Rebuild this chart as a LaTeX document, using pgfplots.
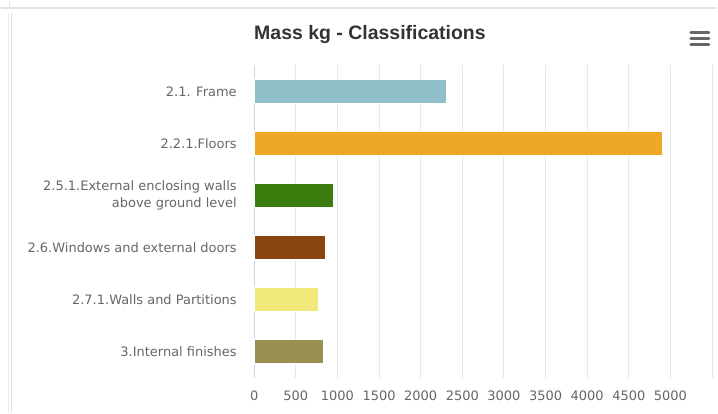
\documentclass[border=0pt]{standalone}
\usepackage{fontspec}
\usepackage{pgfplots}
\pgfplotsset{compat=1.18}
\setmainfont{DejaVu Sans}
\newfontfamily\titlefont{Liberation Sans}

\definecolor{cFrame}{RGB}{145,191,201}
\definecolor{cFloors}{RGB}{238,168,38}
\definecolor{cExt}{RGB}{58,124,14}
\definecolor{cWin}{RGB}{139,69,16}
\definecolor{cWalls}{RGB}{240,232,120}
\definecolor{cFin}{RGB}{154,144,82}
\definecolor{gridgray}{RGB}{230,230,230}
\definecolor{axisblue}{RGB}{204,214,235}
\definecolor{labelgray}{RGB}{102,102,102}
\definecolor{titlegray}{RGB}{51,51,51}
\definecolor{panelline}{RGB}{226,226,226}

\begin{document}
\begin{tikzpicture}[x=1pt,y=1pt]
  % page area
  \path (0,0) rectangle (718,413);
  % panel borders
  \draw[panelline, line width=1.3pt] (0,405.5) -- (718,405.5);
  \draw[panelline, line width=1.1pt] (9,413) -- (9,406);
  \draw[panelline, line width=1.1pt] (10.5,401) -- (10.5,0);
  \draw[panelline!60, line width=0.8pt] (8,401) -- (8,0);

  % title
  \node[anchor=base, font=\titlefont\bfseries\fontsize{19.5}{22}\selectfont, text=titlegray, inner sep=0pt]
    at (370,374) {Mass kg - Classifications};

  % menu icon
  \foreach \yy in {381,374.5,368.5}
    \draw[labelgray, line width=3pt, line cap=round] (691.5,\yy) -- (709.5,\yy);

  \begin{axis}[
    at={(254pt,35pt)}, anchor=south west,
    scale only axis,
    width=458.7pt, height=313pt,
    xbar, bar width=24pt, bar shift=0pt,
    xmin=0, xmax=5500,
    ymin=-0.5, ymax=5.5,
    y dir=reverse,
    axis x line*=bottom, axis y line*=left,
    x axis line style={draw=none},
    y axis line style={draw=axisblue, line width=1pt},
    xtick={0,500,1000,1500,2000,2500,3000,3500,4000,4500,5000,5500},
    xticklabels={0,500,1000,1500,2000,2500,3000,3500,4000,4500,5000,},
    ytick={0,1,2,3,4,5},
    yticklabels={2.1. Frame,2.2.1.Floors,{2.5.1.External enclosing walls\\above ground level},2.6.Windows and external doors,2.7.1.Walls and Partitions,3.Internal finishes},
    major tick length=0pt,
    xmajorgrids, ymajorgrids=false,
    major grid style={draw=gridgray, line width=1pt},
    tick label style={font=\fontsize{13}{16.5}\selectfont, text=labelgray},
    yticklabel style={align=right, xshift=-14pt},
    xticklabel style={yshift=-9pt},
    every axis plot/.append style={draw=white, line width=0.8pt},
  ]
    \addplot[fill=cFrame]  coordinates {(2310,0)};
    \addplot[fill=cFloors] coordinates {(4908,1)};
    \addplot[fill=cExt]    coordinates {(951,2)};
    \addplot[fill=cWin]    coordinates {(860,3)};
    \addplot[fill=cWalls]  coordinates {(771,4)};
    \addplot[fill=cFin]    coordinates {(831,5)};
  \end{axis}
\end{tikzpicture}
\end{document}
